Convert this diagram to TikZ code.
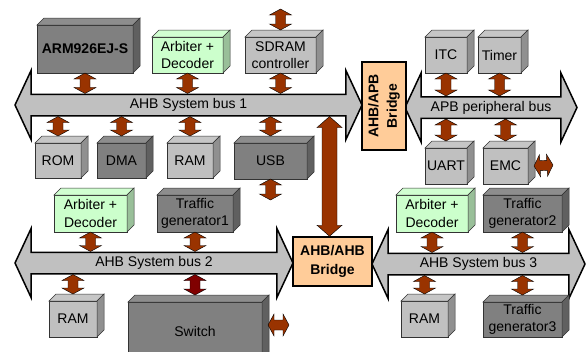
\documentclass[tikz,border=0pt]{standalone}
\usepackage{fontspec}
\setmainfont{Liberation Sans}
\usetikzlibrary{shapes.arrows, calc}
\definecolor{brick}{HTML}{993300}
\definecolor{darkbrick}{HTML}{800000}
\definecolor{lgrey}{HTML}{C0C0C0}
\definecolor{dgrey}{HTML}{808080}
\definecolor{lgreen}{HTML}{CCFFCC}
\definecolor{peach}{HTML}{FFCC99}

\tikzset{
  link head/.store in=\lkhead, link half/.store in=\lkhalf, link shaft/.store in=\lkshaft,
  link head=6pt, link half=11pt, link shaft=5pt,
  link/.style={fill=brick, draw=black, line width=0.4pt,
    to path={(\tikztostart)
      -- ($(\tikztostart)!\lkhead!(\tikztotarget)!\lkhalf!90:(\tikztotarget)$)
      -- ($(\tikztostart)!\lkhead!(\tikztotarget)!\lkshaft!90:(\tikztotarget)$)
      -- ($(\tikztotarget)!\lkhead!(\tikztostart)!\lkshaft!-90:(\tikztostart)$)
      -- ($(\tikztotarget)!\lkhead!(\tikztostart)!\lkhalf!-90:(\tikztostart)$)
      -- (\tikztotarget)
      -- ($(\tikztotarget)!\lkhead!(\tikztostart)!\lkhalf!90:(\tikztostart)$)
      -- ($(\tikztotarget)!\lkhead!(\tikztostart)!\lkshaft!90:(\tikztostart)$)
      -- ($(\tikztostart)!\lkhead!(\tikztotarget)!\lkshaft!-90:(\tikztotarget)$)
      -- ($(\tikztostart)!\lkhead!(\tikztotarget)!\lkhalf!-90:(\tikztotarget)$)
      -- cycle}}
}

\begin{document}
\begin{tikzpicture}[x=1pt, y=-1pt]
        \tikzstyle{box} = [rectangle, draw=black!80, line width=0.5pt, outer sep=0pt, inner sep=1pt, align=center, font=\fontsize{14}{17.5}\selectfont]
        \tikzstyle{bus} = [double arrow, draw=black, line width=1.5pt, fill=lgrey, double arrow head extend=24pt, double arrow tip angle=130, inner xsep=0pt, inner ysep=3.5pt, text height=10pt, text depth=3pt, font=\fontsize{14}{17.5}\selectfont]
        \tikzstyle{bridge} = [rectangle, draw=black, line width=1.5pt, fill=peach, align=center, inner sep=1pt, font=\bfseries\fontsize{14}{18.5}\selectfont]
        \tikzstyle{face} = [draw=black!80, line width=0.5pt]

        \useasboundingbox (0,0) rectangle (586,351);

        \node[bus, minimum height=347pt] (bus1) at (188.5,105) {AHB System bus 1};
        \node[bus, minimum height=172pt] (apb) at (491,107.5) {APB peripheral bus};
        \node[bus, minimum height=278pt] (bus2) at (154,263) {AHB System bus 2};
        \node[bus, minimum height=213pt] (bus3) at (478.5,264) {AHB System bus 3};

        \node[bridge, rotate=90, minimum width=88pt, minimum height=44pt] (apbbr) at (384,106) {AHB/APB\\Bridge};
        \node[bridge, minimum width=79pt, minimum height=49pt] (ahbbr) at (332.5,261.5) {AHB/AHB\\Bridge};

        \node[box, fill=dgrey, minimum width=96pt, minimum height=48pt, font=\bfseries\fontsize{14}{17.5}\selectfont] (arm) at (85,49) {ARM926EJ-S};
        \node[box, fill=lgreen, minimum width=71pt, minimum height=36pt] (arbA) at (187.5,55) {Arbiter +\\Decoder};
        \node[box, fill=lgrey, minimum width=71pt, minimum height=36pt] (sdram) at (280.5,55) {SDRAM\\controller};
        \node[box, fill=lgrey, minimum width=42pt, minimum height=36pt] (itc) at (446,55) {ITC};
        \node[box, fill=lgrey, minimum width=43pt, minimum height=36pt] (timer) at (499.5,55) {Timer};

        \node[box, fill=lgrey, minimum width=46pt, minimum height=35pt] (rom) at (58,160.5) {ROM};
        \node[box, fill=dgrey, minimum width=49pt, minimum height=35pt] (dma) at (121.5,160.5) {DMA};
        \node[box, fill=lgrey, minimum width=46pt, minimum height=35pt] (ramA) at (190,160.5) {RAM};
        \node[box, fill=dgrey, minimum width=73pt, minimum height=36pt] (usb) at (270.5,161) {USB};
        \node[box, fill=lgrey, minimum width=42pt, minimum height=36pt] (uart) at (446,166) {UART};
        \node[box, fill=lgrey, minimum width=45pt, minimum height=36pt] (emc) at (505.5,166) {EMC};

        \node[box, fill=lgreen, minimum width=73pt, minimum height=37pt] (arbB) at (90.5,213.5) {Arbiter +\\Decoder};
        \node[box, fill=dgrey, minimum width=76pt, minimum height=37pt] (tg1) at (195,213.5) {Traffic\\generator1};
        \node[box, fill=lgreen, minimum width=72pt, minimum height=37pt] (arbC) at (432,213.5) {Arbiter +\\Decoder};
        \node[box, fill=dgrey, minimum width=79pt, minimum height=37pt] (tg2) at (522.5,213.5) {Traffic\\generator2};

        \node[box, fill=lgrey, minimum width=48pt, minimum height=36pt] (ramB) at (73,319) {RAM};
        \node[box, fill=dgrey, minimum width=134pt, minimum height=58pt] (switch) at (195,331) {Switch};
        \node[box, fill=lgrey, minimum width=47pt, minimum height=36pt] (ramC) at (424.5,319) {RAM};
        \node[box, fill=dgrey, minimum width=79pt, minimum height=35pt] (tg3) at (522.5,319.5) {Traffic\\generator3};

        \foreach \n/\c in {arm/dgrey, arbA/lgreen, sdram/lgrey, itc/lgrey, timer/lgrey, rom/lgrey, dma/dgrey, ramA/lgrey, usb/dgrey, uart/lgrey, emc/lgrey, arbB/lgreen, tg1/dgrey, arbC/lgreen, tg2/dgrey, ramB/lgrey, switch/dgrey, ramC/lgrey, tg3/dgrey}{
            \filldraw[face, fill=\c!90!white] (\n.north west) -- ([shift={(7,-7)}]\n.north west) -- ([shift={(7,-7)}]\n.north east) -- (\n.north east) -- cycle;
            \filldraw[face, fill=\c!75!black] (\n.north east) -- ([shift={(7,-7)}]\n.north east) -- ([shift={(7,-7)}]\n.south east) -- (\n.south east) -- cycle;
        }

        \coordinate (sdramout) at (280.5,9);
        \coordinate (usbout) at (270.5,200);
        \coordinate (emcout) at (553,165);
        \coordinate (swout) at (289,325);

        \foreach \n in {arm, arbA, sdram}
            \draw[link] (\n.south) to (\n.south |- bus1.north);
        \foreach \n in {rom, dma, ramA, usb}
            \draw[link] (\n.north |- bus1.south) to ([yshift=7pt]\n.north);
        \draw[link] (sdramout) to ([yshift=7pt]sdram.north);
        \draw[link] (usb.south) to (usbout);

        \foreach \n in {itc, timer}
            \draw[link] (\n.south) to (\n.south |- apb.north);
        \foreach \n in {uart, emc}
            \draw[link] (\n.north |- apb.south) to ([yshift=7pt]\n.north);
        \draw[link] ([xshift=6pt]emc.east) to (emcout);

        \foreach \n in {arbB, tg1}
            \draw[link] (\n.south) to (\n.south |- bus2.north);
        \draw[link] (ramB.north |- bus2.south) to ([yshift=7pt]ramB.north);
        \draw[link, fill=darkbrick] (switch.north |- bus2.south) to ([yshift=7pt]switch.north);
        \draw[link] ([xshift=6pt]switch.east |- swout) to (swout);

        \foreach \n in {arbC, tg2}
            \draw[link] (\n.south) to (\n.south |- bus3.north);
        \foreach \n in {ramC, tg3}
            \draw[link] (\n.north |- bus3.south) to ([yshift=7pt]\n.north);

        \draw[link, link head=11pt, link half=12.5pt, link shaft=7.5pt] ([xshift=-3pt]ahbbr.north |- bus1.south) to ([xshift=-3pt]ahbbr.north);

    \end{tikzpicture}
\end{document}
